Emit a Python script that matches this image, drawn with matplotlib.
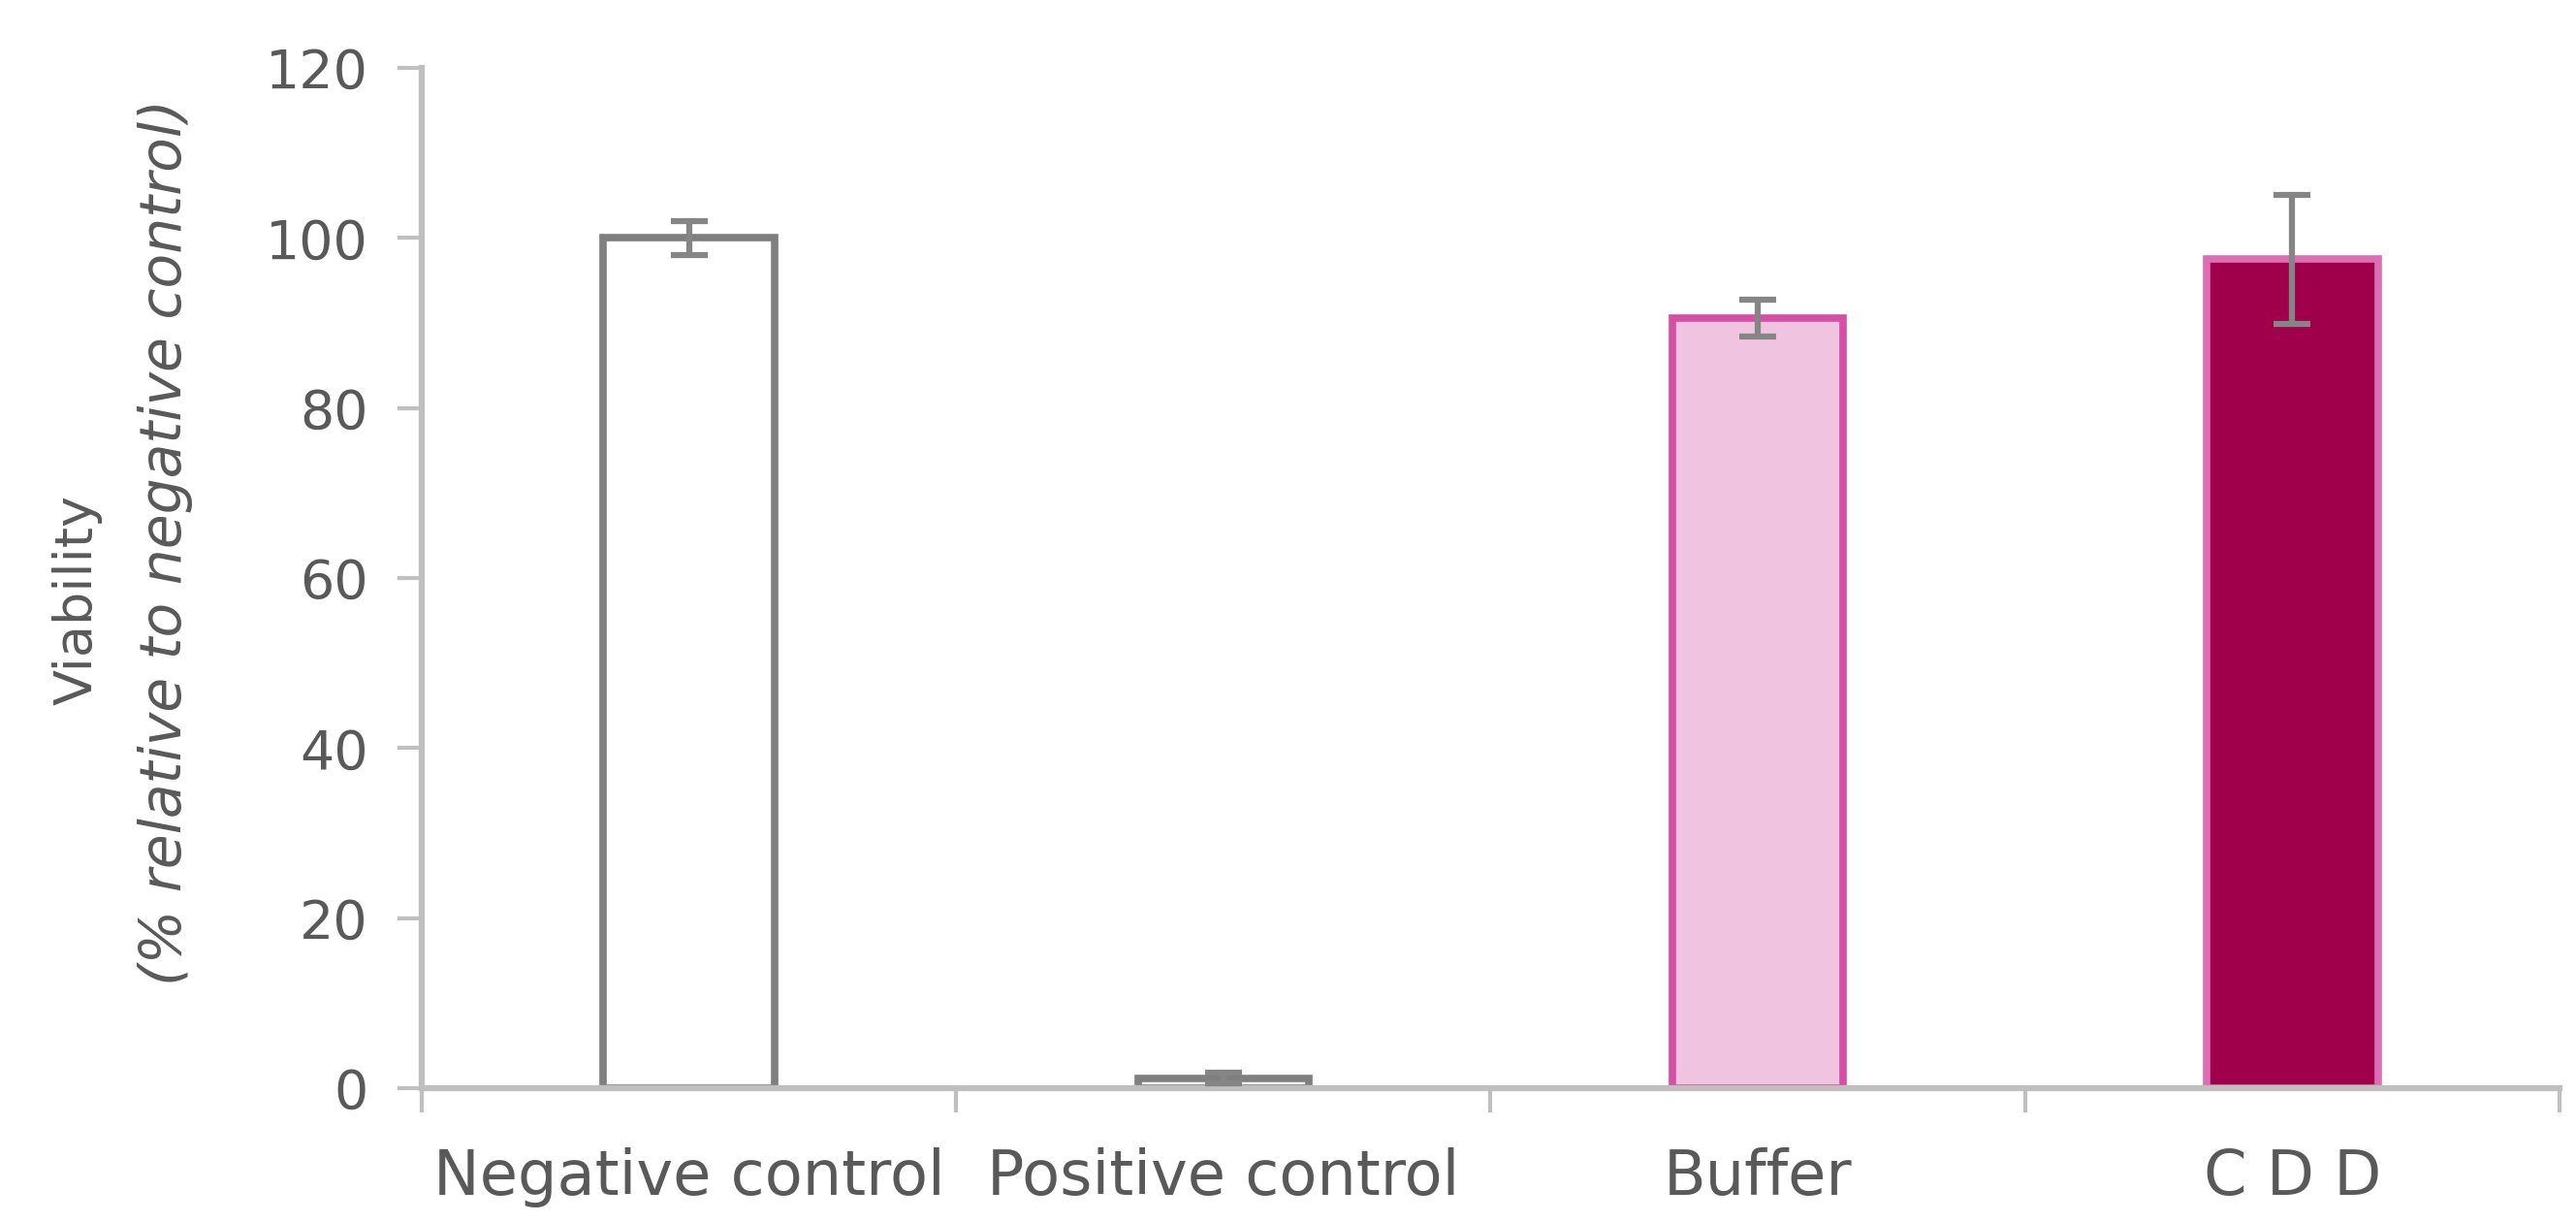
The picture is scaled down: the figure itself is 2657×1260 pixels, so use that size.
import matplotlib
matplotlib.use("Agg")
import matplotlib.pyplot as plt
import numpy as np

categories = ["Negative control", "Positive control", "Buffer", "C D D"]
values = [100.0, 1.2, 90.6, 97.5]
errors = [2.0, 0.6, 2.2, 7.6]
fill_colors = ["#FFFFFF", "#FFFFFF", "#F0C3E0", "#A0004B"]
edge_colors = ["#7F7F7F", "#7F7F7F", "#D64FA5", "#DC6FB3"]
yticks = [0, 20, 40, 60, 80, 100, 120]

plt.rcParams['font.family'] = ['DejaVu Sans']

fig = plt.figure(figsize=(26.57, 12.60), dpi=100)
ax = fig.add_axes([0.1637, 0.1095, 0.8299, 0.8349])

x = np.arange(len(categories))
ax.bar(x, values, width=0.32, color=fill_colors, edgecolor=edge_colors,
       linewidth=5.5, zorder=2)
ax.errorbar(x, values, yerr=errors, fmt='none', ecolor="#858585",
            elinewidth=4.5, capsize=14, capthick=4.5, zorder=3)

ax.set_xlim(-0.5, 3.5)
ax.set_ylim(0, 120)
ax.set_yticks(yticks)
ax.set_yticklabels([str(v) for v in yticks], fontsize=40, color="#595959")
ax.set_xticks(x)
ax.set_xticklabels(categories, fontsize=46, color="#595959")
ax.set_xticks(np.arange(-0.5, 4.0, 1.0), minor=True)

for s in ["top", "right"]:
    ax.spines[s].set_visible(False)
for s in ["left", "bottom"]:
    ax.spines[s].set_color("#BFBFBF")
    ax.spines[s].set_linewidth(4.5)

ax.tick_params(axis='y', which='major', length=18, width=3, color="#BFBFBF", pad=22)
ax.tick_params(axis='x', which='major', length=0, pad=44)
ax.tick_params(axis='x', which='minor', length=18, width=3, color="#BFBFBF")

fig.text(0.030, 0.509, "Viability", rotation=90, ha='center', va='center',
         fontsize=39, color="#595959")
fig.text(0.064, 0.556, "(% relative to negative control)", rotation=90,
         ha='center', va='center', fontsize=42, style='italic', color="#595959")

fig.savefig("out.png", dpi=100, facecolor="white")
